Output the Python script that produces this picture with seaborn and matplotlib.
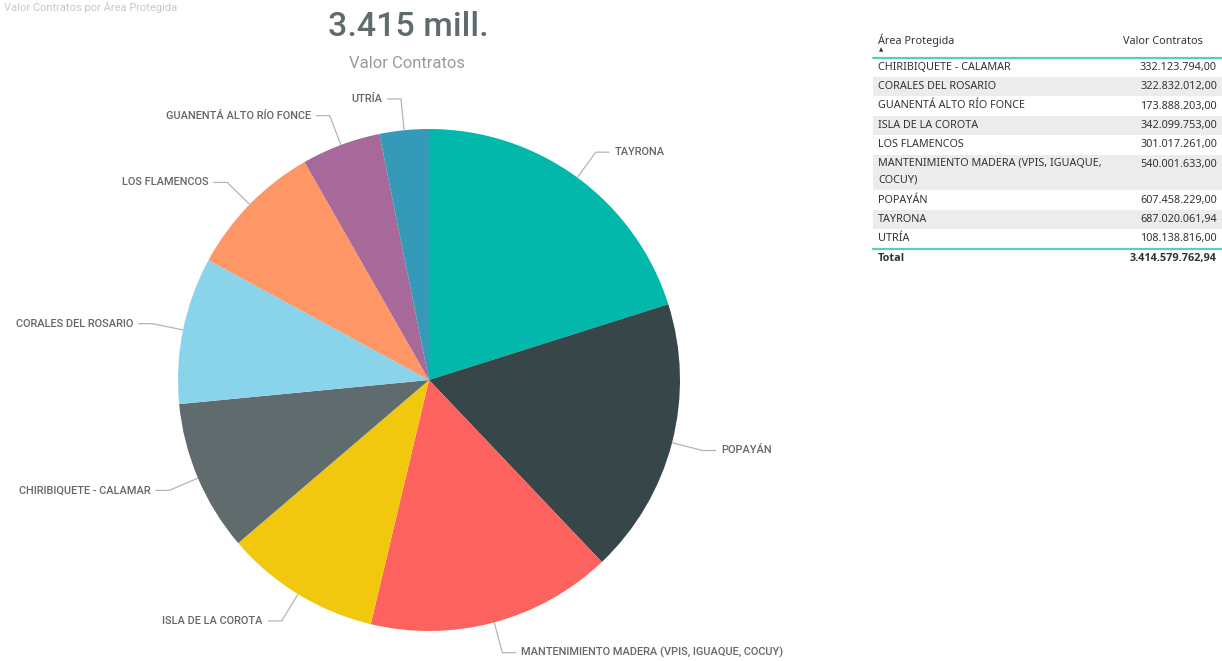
import numpy as np
import matplotlib
matplotlib.use("Agg")
import matplotlib.pyplot as plt
from matplotlib.patches import Rectangle
import seaborn as sns

areas = [
    "CHIRIBIQUETE - CALAMAR",
    "CORALES DEL ROSARIO",
    "GUANENTÁ ALTO RÍO FONCE",
    "ISLA DE LA COROTA",
    "LOS FLAMENCOS",
    "MANTENIMIENTO MADERA (VPIS, IGUAQUE, COCUY)",
    "POPAYÁN",
    "TAYRONA",
    "UTRÍA",
]
valores = [
    332123794.00,
    322832012.00,
    173888203.00,
    342099753.00,
    301017261.00,
    540001633.00,
    607458229.00,
    687020061.94,
    108138816.00,
]
colores_area = {
    "TAYRONA": "#01B8AA",
    "POPAYÁN": "#374649",
    "MANTENIMIENTO MADERA (VPIS, IGUAQUE, COCUY)": "#FD625E",
    "ISLA DE LA COROTA": "#F2C80F",
    "CHIRIBIQUETE - CALAMAR": "#5F6B6D",
    "CORALES DEL ROSARIO": "#8AD4EB",
    "LOS FLAMENCOS": "#FE9666",
    "GUANENTÁ ALTO RÍO FONCE": "#A66999",
    "UTRÍA": "#3599B8",
}
# table rows that wrap onto two lines
tabla_etiquetas = [a if not a.startswith("MANTENIMIENTO") else
                   "MANTENIMIENTO MADERA (VPIS, IGUAQUE,\nCOCUY)" for a in areas]


def fmt_es(v, dec=2):
    """Format number with Spanish separators."""
    s = f"{v:,.{dec}f}"
    return s.replace(",", "_").replace(".", ",").replace("_", ".")


sns.set_theme(style="white")
plt.rcParams["font.family"] = ["Roboto", "DejaVu Sans"]

W, H = 1222, 661
fig = plt.figure(figsize=(W / 100, H / 100), dpi=100)

# pie sorted by value, descending, clockwise from the top
orden = np.argsort(valores)[::-1]
pie_labels = [areas[i] for i in orden]
pie_vals = [valores[i] for i in orden]
pal = sns.color_palette([colores_area[a] for a in pie_labels])

cx, cy, r = 429, 380, 251
left_px, right_px = 0, 858
ax = fig.add_axes([left_px / W, 0, (right_px - left_px) / W, 1])
wedges, _ = ax.pie(pie_vals, colors=pal, startangle=90, counterclock=False,
                   wedgeprops=dict(linewidth=0))
ax.set_xlim((left_px - cx) / r, (right_px - cx) / r)
ax.set_ylim(-(H - cy) / r, cy / r)
ax.axis("off")

for w, lab in zip(wedges, pie_labels):
    ang = np.deg2rad((w.theta1 + w.theta2) / 2)
    x0, y0 = np.cos(ang), np.sin(ang)
    x1, y1 = 1.125 * x0, 1.125 * y0
    side = 1 if x0 >= 0 else -1
    x2 = x1 + side * 0.055
    ax.plot([x0, x1, x2], [y0, y1, y1], color="#b5b5b5", lw=0.9,
            solid_capstyle="butt", clip_on=False)
    ax.text(x2 + side * 0.02, y1, lab, ha="left" if side > 0 else "right",
            va="center", fontsize=7.9, color="#666666", fontweight="medium")

# overlay in pixel coordinates for titles and table
ov = fig.add_axes([0, 0, 1, 1], facecolor="none")
ov.set_xlim(0, W)
ov.set_ylim(H, 0)
ov.axis("off")

ov.text(4, 7, "Valor Contratos por Área Protegida", fontsize=8, color="#c8c8c8",
        ha="left", va="center")
total = sum(valores)
ov.text(408, 27, fmt_es(total / 1e6, 0) + " mill.", fontsize=24.5,
        color="#5F6B6D", ha="center", va="center", fontweight="medium")
ov.text(407, 63, "Valor Contratos", fontsize=12, color="#9a9a9a",
        ha="center", va="center")

# table
tx0, tx1 = 873, 1222
xl, xr = 878, 1217
txt_kw = dict(fontsize=7.8, color="#333333", va="center",
              family=["Noto Sans", "DejaVu Sans"])
ov.text(xl, 40, "Área Protegida", ha="left", **txt_kw)
ov.text(1203, 41, "Valor Contratos", ha="right", **txt_kw)
ov.text(881, 50, "▲", ha="center", va="center", fontsize=4, color="#333333")
ov.plot([tx0, tx1], [57.5, 57.5], color="#5ECBC0", lw=1.6)

row_h = 19.4
y = 57.5
for k, (lab, v) in enumerate(zip(tabla_etiquetas, valores)):
    h = row_h * (1 + 0.85 * lab.count("\n"))
    if k % 2 == 1:
        ov.add_patch(Rectangle((tx0, y), tx1 - tx0, h, color="#ececec", lw=0))
    if "\n" in lab:
        l1, l2 = lab.split("\n")
        ov.text(xl, y + 9.5, l1, ha="left", **txt_kw)
        ov.text(xl, y + 25.5, l2, ha="left", **txt_kw)
        ov.text(xr, y + 9.5, fmt_es(v), ha="right", **txt_kw)
    else:
        ov.text(xl, y + h / 2, lab, ha="left", **txt_kw)
        ov.text(xr, y + h / 2, fmt_es(v), ha="right", **txt_kw)
    y += h
ov.plot([tx0, tx1], [y, y], color="#5ECBC0", lw=1.6)
bold_kw = dict(txt_kw, family=["Open Sans", "DejaVu Sans"], fontweight="bold")
ov.text(xl, y + 10, "Total", ha="left", **bold_kw)
ov.text(xr, y + 10, fmt_es(total), ha="right", **bold_kw)

fig.savefig("out.png", dpi=100, facecolor="white")
